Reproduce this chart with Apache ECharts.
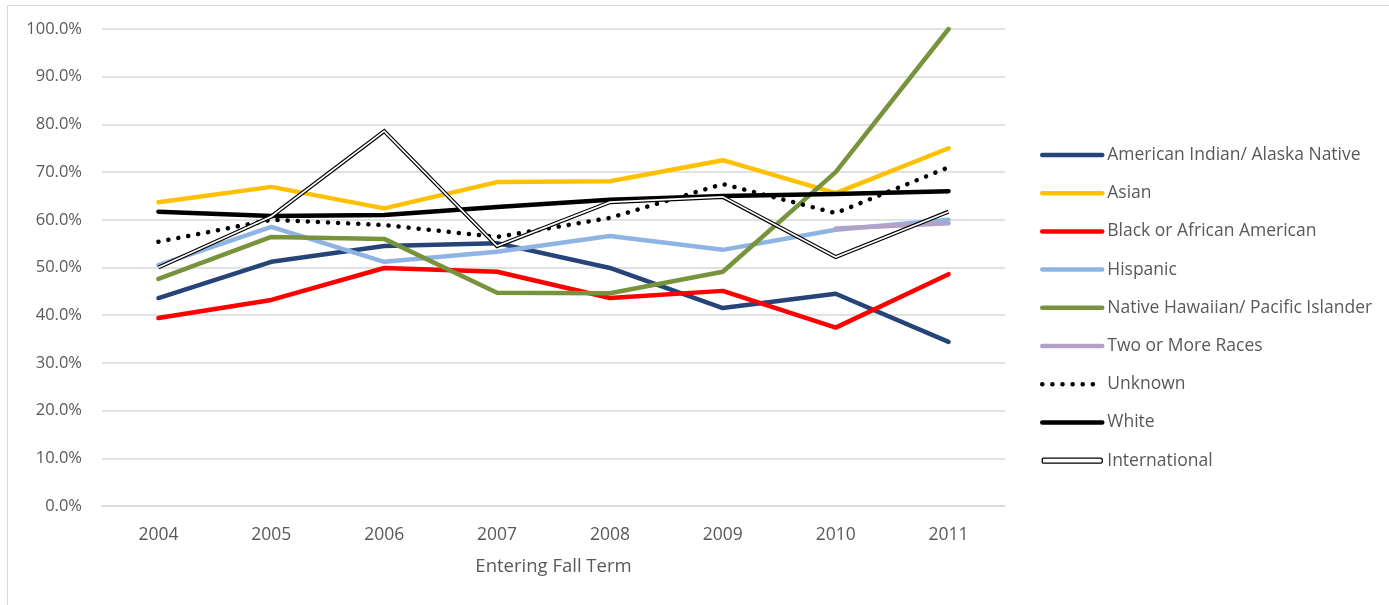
<!DOCTYPE html>
<html>
<head>
<meta charset="utf-8">
<script src="https://cdn.jsdelivr.net/npm/echarts@6/dist/echarts.min.js"></script>
<style>
  html, body { margin: 0; padding: 0; background: #fff; }
  #frame { position: absolute; left: 7px; top: 5px; width: 1400px; height: 620px; border: 1px solid #d9d9d9; box-sizing: border-box; }
  #chart { position: absolute; left: 0; top: 0; width: 1389px; height: 605px; }
</style>
</head>
<body>
<div id="frame"></div>
<div id="chart"></div>
<script>
const years = ['2004', '2005', '2006', '2007', '2008', '2009', '2010', '2011'];

const americanIndian = [43.6, 51.2, 54.5, 55.1, 49.9, 41.5, 44.5, 34.4];
const asian = [63.7, 66.9, 62.4, 67.9, 68.1, 72.5, 65.6, 75.0];
const black = [39.4, 43.2, 49.9, 49.1, 43.6, 45.1, 37.4, 48.6];
const hispanic = [50.5, 58.5, 51.2, 53.3, 56.6, 53.7, 57.9, 60.0];
const nativeHawaiian = [47.6, 56.4, 56.0, 44.7, 44.6, 49.1, 70.0, 100.0];
const twoOrMore = [null, null, null, null, null, null, 58.2, 59.3];
const unknown = [55.4, 60.0, 58.9, 56.4, 60.4, 67.5, 61.4, 71.0];
const white = [61.7, 60.8, 61.0, 62.7, 64.2, 65.0, 65.4, 66.0];
const international = [50.0, 60.7, 78.6, 54.5, 63.7, 64.8, 52.2, 61.7];

const font = 'Open Sans';
const txt = '#595959';

function line(name, data, color, extra) {
  return Object.assign({
    name: name,
    type: 'line',
    data: data,
    symbol: 'none',
    showSymbol: false,
    connectNulls: false,
    lineStyle: { color: color, width: 4.5, cap: 'round', join: 'round' },
    itemStyle: { color: color },
    emphasis: { disabled: true },
    animation: false
  }, extra || {});
}

const chart = echarts.init(document.getElementById('chart'), null, { renderer: 'canvas' });
chart.setOption({
  backgroundColor: 'transparent',
  animation: false,
  grid: { left: 102, right: 384, top: 29, bottom: 99, containLabel: false },
  xAxis: {
    type: 'category',
    data: years,
    boundaryGap: true,
    name: 'Entering Fall Term',
    nameLocation: 'middle',
    nameGap: 51,
    nameTextStyle: { color: txt, fontFamily: font, fontSize: 18.5 },
    axisLine: { show: true, lineStyle: { color: '#d9d9d9', width: 1.5 } },
    axisTick: { show: false },
    axisLabel: { color: txt, fontFamily: font, fontSize: 17.5, margin: 20 }
  },
  yAxis: {
    type: 'value',
    min: 0,
    max: 100,
    interval: 10,
    axisLine: { show: false },
    axisTick: { show: false },
    splitLine: { lineStyle: { color: '#d9d9d9', width: 1.5 } },
    axisLabel: {
      color: txt, fontFamily: font, fontSize: 16.5, margin: 20,
      formatter: function (v) { return v.toFixed(1) + '%'; }
    }
  },
  legend: {
    orient: 'vertical',
    left: 1035,
    top: 140,
    itemWidth: 60,
    itemHeight: 5,
    itemGap: 18.2,
    textStyle: { color: txt, fontFamily: font, fontSize: 17.5, lineHeight: 20 },
    lineStyle: { width: 4.5, cap: 'round' },
    itemStyle: { opacity: 0 },
    data: [
      'American Indian/ Alaska Native',
      'Asian',
      'Black or African American',
      'Hispanic',
      'Native Hawaiian/ Pacific Islander',
      'Two or More Races',
      'Unknown',
      'White',
      { name: 'International', icon: 'roundRect', itemStyle: { opacity: 1, color: '#ffffff', borderColor: '#000000', borderWidth: 1.3 } }
    ],
    selectedMode: false
  },
  series: [
    line('American Indian/ Alaska Native', americanIndian, '#264478'),
    line('Asian', asian, '#FFC000'),
    line('Black or African American', black, '#FF0000'),
    line('Hispanic', hispanic, '#8EB4E3'),
    line('Native Hawaiian/ Pacific Islander', nativeHawaiian, '#77933C'),
    line('Two or More Races', twoOrMore, '#B3A2C7'),
    line('Unknown', unknown, '#000000', { lineStyle: { color: '#000000', width: 4.5, type: [0.1, 10], cap: 'round', join: 'round' } }),
    line('White', white, '#000000'),
    line('International', international, '#000000', { lineStyle: { color: '#000000', width: 4, join: 'miter', cap: 'butt' } }),
    line('International inner', international, '#ffffff', { lineStyle: { color: '#ffffff', width: 1.6, join: 'miter', cap: 'butt' } })
  ]
});
</script>
</body>
</html>
